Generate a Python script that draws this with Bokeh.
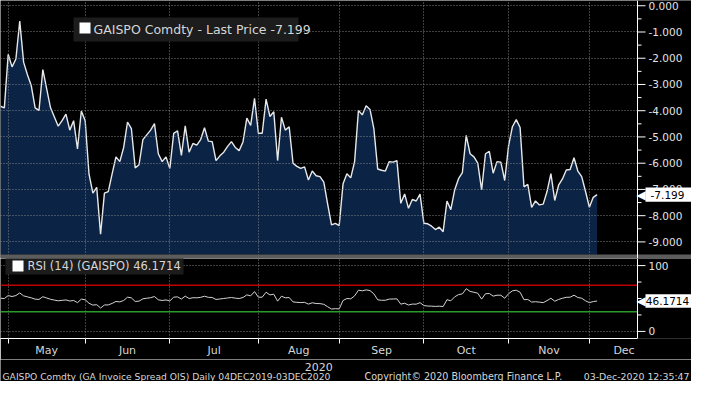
import pandas as pd
from bokeh.plotting import figure
from bokeh.layouts import column
from bokeh.core.properties import value
from bokeh.models import Range1d, FixedTicker, Span, Label, BoxAnnotation
from bokeh.embed import file_html
from bokeh.resources import INLINE

# ---------------- data ----------------
dates = [d for d in pd.bdate_range("2020-04-29", "2020-12-03") if d != pd.Timestamp("2020-05-01")]

price = [
    -3.83, -3.89, -1.85, -2.33, -2.03, -0.58, -2.15, -2.63, -3.05, -3.89,
    -3.99, -2.43, -3.17, -3.89, -4.24, -4.59, -4.38, -4.13, -4.74, -4.38,
    -5.46, -4.01, -4.38, -6.42, -7.14, -6.92, -8.71, -7.14, -7.08, -6.41,
    -5.76, -5.94, -5.40, -4.43, -4.68, -6.18, -6.06, -5.10, -4.92, -4.74,
    -4.49, -5.64, -5.94, -5.76, -6.20, -4.86, -4.77, -5.70, -4.58, -5.58,
    -5.25, -5.31, -5.10, -4.65, -5.16, -5.18, -5.90, -5.72, -5.58, -5.36,
    -5.18, -5.40, -5.52, -5.19, -4.28, -4.56, -3.53, -4.86, -4.86, -3.56,
    -4.22, -4.04, -5.90, -4.25, -4.74, -4.61, -6.00, -6.12, -6.20, -6.14,
    -6.64, -6.30, -6.48, -6.51, -6.72, -7.56, -8.35, -8.29, -8.38, -6.78,
    -6.40, -6.56, -5.94, -3.99, -4.16, -3.81, -3.95, -4.68, -6.22, -6.27,
    -6.30, -5.94, -5.96, -5.90, -7.53, -7.17, -7.72, -7.38, -7.44, -7.18,
    -8.29, -8.31, -8.40, -8.53, -8.44, -8.61, -7.44, -7.77, -7.02, -6.59,
    -6.36, -4.94, -5.64, -5.76, -6.00, -7.02, -5.64, -5.55, -6.38, -5.94,
    -5.96, -6.66, -5.34, -4.61, -4.34, -4.64, -6.90, -6.81, -7.68, -7.44,
    -7.59, -7.56, -7.08, -6.40, -7.42, -6.84, -6.60, -6.26, -6.24, -5.79,
    -6.30, -6.51, -7.08, -7.68, -7.30, -7.199,
]

rsi = [
    50.4, 50.0, 54.5, 53.0, 54.5, 58.5, 54.0, 52.5, 51.0, 49.0,
    48.6, 52.7, 50.8, 48.8, 47.6, 46.5, 47.2, 47.8, 46.2, 47.0,
    43.7, 49.1, 48.0, 42.8, 40.0, 40.6, 35.6, 40.1, 40.3, 42.5,
    45.5, 44.8, 47.0, 52.0, 51.0, 45.5, 46.0, 49.5, 50.4, 51.2,
    53.0, 48.0, 47.0, 47.8, 46.3, 52.0, 52.5, 49.2, 53.6, 50.0,
    51.2, 51.0, 51.8, 53.4, 51.8, 51.5, 48.5, 49.3, 50.0, 50.8,
    51.5, 50.5, 50.0, 51.5, 55.5, 54.0, 60.5, 52.0, 52.0, 59.5,
    55.5, 56.5, 46.0, 53.5, 51.0, 51.5, 44.8, 44.2, 43.8, 44.2,
    41.5, 43.5, 42.4, 42.2, 41.2, 37.5, 34.0, 34.5, 34.2, 47.0,
    50.0, 49.5, 54.0, 62.6, 61.7, 63.1, 62.0, 57.2, 48.0, 47.3,
    47.3, 49.1, 49.2, 49.5, 41.4, 42.8, 40.1, 41.5, 41.4, 43.7,
    39.2, 38.6, 38.3, 38.0, 38.3, 37.8, 48.2, 46.5, 52.5, 55.9,
    57.0, 64.9, 60.8, 59.5, 58.0, 49.1, 57.2, 57.6, 53.6, 55.0,
    55.0, 50.4, 57.2, 61.7, 62.6, 59.5, 48.2, 48.5, 44.6, 45.1,
    44.5, 43.7, 46.8, 50.4, 45.9, 48.5, 50.4, 51.8, 52.0, 55.0,
    51.5, 50.4, 46.5, 43.7, 45.3, 46.1714,
]

price_ticks = [0, -1, -2, -3, -4, -5, -6, -7, -8, -9]
price_minor = [-0.5, -1.5, -2.5, -3.5, -4.5, -5.5, -6.5, -7.5, -8.5]
rsi_ticks = [0, 100]
rsi_minor = [25, 50, 75]
rsi_levels = [70, 30]
month_names = ["May", "Jun", "Jul", "Aug", "Sep", "Oct", "Nov", "Dec"]
ticker_name = "GAISPO"
footer_left = "GAISPO Comdty (GA Invoice Spread OIS)  Daily 04DEC2019-03DEC2020"
footer_mid = "Copyright\u00a9 2020 Bloomberg Finance L.P."
footer_right = "03-Dec-2020 12:35:47"

# ---------------- layout constants ----------------
W = 691
AX_PX = 637                 # pixel position of the right axis line
X_END = 165.5               # x value at the axis line
UPX = X_END / AX_PX         # x units per pixel
X_FULL = W * UPX
FONT = "DejaVu Sans"
BG = "black"
GRID = "#8c8c8c"
TXT = "#d6d6d6"
AXT = "#e2e2e2"
LEG_BG = "#1c1c1c"
PRICE_BASE = -9.48
P1_BOTTOM = -9.632

x = list(range(len(dates)))
bounds = [i for i in range(1, len(dates)) if dates[i].month != dates[i - 1].month]
mids = []
for k, b in enumerate(bounds):
    if k + 1 < len(bounds):
        mids.append((b + bounds[k + 1]) / 2)
    else:
        mids.append(min(b + 10.5, X_END - 3.5))
month_labels = {m: n for m, n in zip(mids, month_names)}

XR = Range1d(0, X_FULL)


def base_fig(height, y_range, **kw):
    p = figure(width=W, height=height, x_range=XR, y_range=y_range,
               output_backend="svg", toolbar_location=None,
               y_axis_location=None, background_fill_color=BG, border_fill_color=BG,
               outline_line_color=None, min_border_left=0, min_border_right=0,
               min_border_top=0, **kw)
    return p


def style_grid(p, yticks):
    p.ygrid.ticker = FixedTicker(ticks=yticks)
    p.xgrid.ticker = FixedTicker(ticks=bounds)
    for g in (p.xgrid, p.ygrid):
        g.grid_line_color = GRID
        g.grid_line_dash = "1 2"
        g.grid_line_alpha = 0.9
        g.level = "annotation"


def right_axis(p, ticks, minor, labels, fontsize):
    p.add_layout(Span(location=X_END, dimension="height", line_color="white", line_width=1))
    r1 = p.ray(x=[X_END] * len(ticks), y=ticks, length=8, length_units="screen", angle=0,
               line_color="white", line_width=1)
    r2 = p.ray(x=[X_END] * len(minor), y=minor, length=4, length_units="screen", angle=0,
               line_color="white", line_width=1)
    r3 = p.text(x=[X_END] * len(ticks), y=ticks, text=labels, x_offset=11,
                text_baseline="middle", text_align="left", text_color=AXT,
                text_font=value(FONT), text_font_size=fontsize)
    for r in (r1, r2, r3):
        r.level = "overlay"


def tag(p, yval, text, half_h):
    p.add_layout(BoxAnnotation(left=X_END + 8 * UPX, top=yval + half_h, bottom=yval - half_h,
                               fill_color="white", fill_alpha=1, line_color=None,
                               level="overlay"))
    p.add_layout(Label(x=X_END, y=yval, x_offset=-1, text="\u25c0", text_color="white",
                       text_font=FONT, text_font_size="12px", text_baseline="middle",
                       level="overlay"))
    p.add_layout(Label(x=X_END, y=yval, x_offset=30, text=text, text_color="black",
                       text_font=FONT, text_font_size="10.5px", text_baseline="middle",
                       text_align="center", level="overlay"))


def legend_box(p, left, right, top, bottom, sq, text, tx, ty, fs):
    p.add_layout(BoxAnnotation(left=left, right=right, top=top, bottom=bottom,
                               left_units="screen", right_units="screen",
                               top_units="screen", bottom_units="screen",
                               fill_color=LEG_BG, fill_alpha=1, line_color=None))
    p.add_layout(BoxAnnotation(left=sq[0], right=sq[1], top=sq[2], bottom=sq[3],
                               left_units="screen", right_units="screen",
                               top_units="screen", bottom_units="screen",
                               fill_color="white", fill_alpha=1, line_color=None))
    p.add_layout(Label(x=tx, y=ty, x_units="screen", y_units="screen", text=text,
                       text_color=TXT, text_font=FONT, text_font_size=fs,
                       text_baseline="middle"))


# ---------------- price panel ----------------
p1 = base_fig(258, Range1d(P1_BOTTOM, 0.2), x_axis_location=None, min_border_bottom=0)
p1.varea(x=x, y1=PRICE_BASE, y2=price, fill_color="#0b2446")
p1.line(x=x, y=price, line_color="#e8e8e8", line_width=1.4)
style_grid(p1, price_ticks)
p1.add_layout(BoxAnnotation(left=X_END, fill_color=BG, fill_alpha=1, line_color=None))
p1.add_layout(BoxAnnotation(top=PRICE_BASE, bottom=P1_BOTTOM, fill_color="#5c5c5c",
                            fill_alpha=1, line_color=None))
right_axis(p1, price_ticks, price_minor, [f"{t:.3f}" for t in price_ticks], "10.5px")
legend_box(p1, 73, 298, 241, 217, (79, 90, 236, 225),
           f"{ticker_name} Comdty - Last Price {price[-1]:.3f}", 93, 229, "12.5px")
tag(p1, price[-1], f"{price[-1]:.3f}", 0.27)

# ---------------- RSI panel ----------------
p2 = base_fig(101, Range1d(-10.8, 110.8), min_border_bottom=13)
p2.line(x=x, y=rsi, line_color="#d2d2d2", line_width=1)
style_grid(p2, rsi_ticks)
p2.add_layout(Span(location=rsi_levels[0], dimension="width", line_color="#c00000", line_width=1.5))
p2.add_layout(Span(location=rsi_levels[1], dimension="width", line_color="#2a9a2a", line_width=1.5))
p2.add_layout(BoxAnnotation(left=X_END, fill_color=BG, fill_alpha=1, line_color=None))
right_axis(p2, rsi_ticks, rsi_minor, [str(t) for t in rsi_ticks], "10.5px")
legend_box(p2, 5, 183, 82, 64, (12, 23, 78, 67),
           f"RSI (14) ({ticker_name}) {rsi[-1]:.4f}", 27, 73, "11.5px")
tag(p2, rsi[-1], f"{rsi[-1]:.4f}", 10.4)

axx = p2.xaxis[0]
axx.bounds = (0, X_END)
axx.ticker = FixedTicker(ticks=mids, minor_ticks=bounds)
axx.major_label_overrides = month_labels
axx.axis_line_color = "white"
axx.major_tick_line_color = None
axx.major_tick_out = 0
axx.major_tick_in = 0
axx.minor_tick_line_color = "white"
axx.minor_tick_in = 0
axx.minor_tick_out = 5
axx.major_label_standoff = 0
axx.major_label_text_color = TXT
axx.major_label_text_font = FONT
axx.major_label_text_font_size = "11px"

# ---------------- footer ----------------
p3 = base_fig(22, Range1d(0, 1), x_axis_location=None, min_border_bottom=0)
p3.xgrid.visible = False
p3.ygrid.visible = False
p3.add_layout(Label(x=82.7, y=15, y_units="screen", text=str(dates[-1].year),
                    text_color=TXT, text_font=FONT, text_font_size="11px",
                    text_align="center", text_baseline="middle"))
p3.add_layout(Label(x=2, y=5, x_units="screen", y_units="screen", text=footer_left,
                    text_color=TXT, text_font=FONT, text_font_size="9.2px",
                    text_baseline="middle"))
p3.add_layout(Label(x=364, y=5, x_units="screen", y_units="screen", text=footer_mid,
                    text_color=TXT, text_font=FONT, text_font_size="9.6px",
                    text_baseline="middle"))
p3.add_layout(Label(x=689, y=5, x_units="screen", y_units="screen", text=footer_right,
                    text_color=TXT, text_font=FONT, text_font_size="9.4px",
                    text_align="right", text_baseline="middle"))

layout = column(p1, p2, p3, spacing=0)
open("out.html", "w").write(file_html(layout, INLINE))
